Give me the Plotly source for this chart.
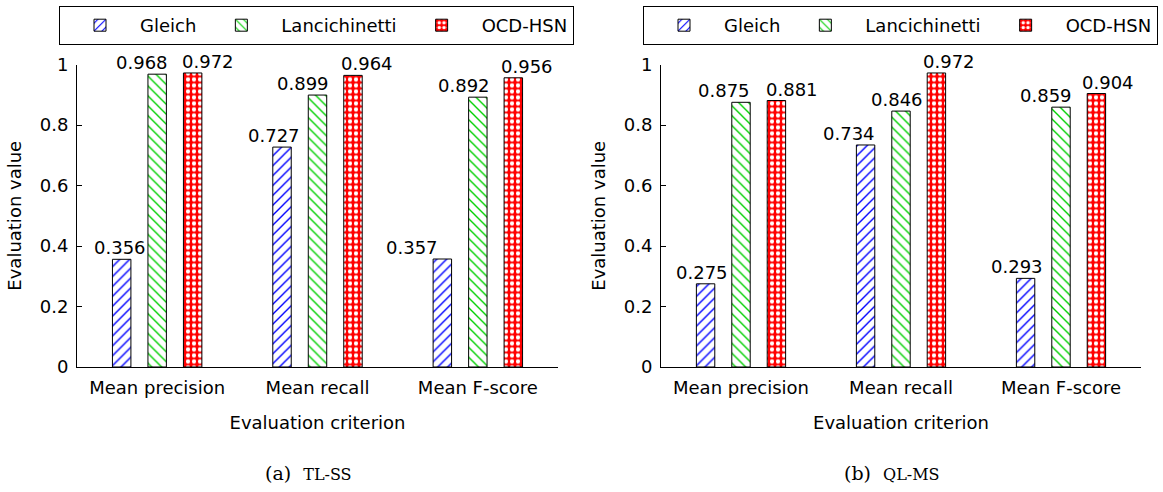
import plotly.graph_objects as go

# ---------------- data ----------------
criteria = ["Mean precision", "Mean recall", "Mean F-score"]
methods = ["Gleich", "Lancichinetti", "OCD-HSN"]

tlss_gleich = [0.356, 0.727, 0.357]
tlss_lanc = [0.968, 0.899, 0.892]
tlss_ocd = [0.972, 0.964, 0.956]

qlms_gleich = [0.275, 0.734, 0.293]
qlms_lanc = [0.875, 0.846, 0.859]
qlms_ocd = [0.881, 0.972, 0.904]

y_ticks = [0, 0.2, 0.4, 0.6, 0.8, 1]
y_tick_labels = ["0", "0.2", "0.4", "0.6", "0.8", "1"]

panel_captions = ["(a)", "(b)"]
panel_names = ["TL-SS", "QL-MS"]

# ---------------- style ----------------
W, H = 1163, 492
FONT = "DejaVu Sans"
BARGAP = 0.336
BARGROUPGAP = 0.48

patterns = [
    dict(shape="/", fgcolor="#0000ff", bgcolor="white", size=7, solidity=0.2, fgopacity=1),
    dict(shape="\\", fgcolor="#00d000", bgcolor="white", size=7, solidity=0.2, fgopacity=1),
    dict(shape=".", fgcolor="white", bgcolor="#ff0000", size=6, solidity=0.4, fgopacity=1),
]

# horizontal pixel nudges of the value labels (as placed in the original)
label_dx = {
    0: [[-2, -8, -30], [-15, -15, -14], [15, 14, 14]],
    1: [[-4, -17, -9], [-17, -4, -15], [16, 13, 12]],
}

x_domains = [[77 / W, 558 / W], [661 / W, 1141 / W]]
y_domain = [1 - 367 / H, 1 - 64.5 / H]
legend_x = [59 / W, 643 / W]

fig = go.Figure()

panels = [
    [tlss_gleich, tlss_lanc, tlss_ocd],
    [qlms_gleich, qlms_lanc, qlms_ocd],
]

annotations = []
slot = (1 - BARGAP) / len(methods)

for p, series in enumerate(panels):
    xa = "x" if p == 0 else "x2"
    ya = "y" if p == 0 else "y2"
    lg = "legend" if p == 0 else "legend2"
    for s, (name, vals) in enumerate(zip(methods, series)):
        fig.add_trace(
            go.Bar(
                x=criteria,
                y=vals,
                name=name,
                xaxis=xa,
                yaxis=ya,
                legend=lg,
                marker=dict(
                    color="white",
                    line=dict(color="black", width=1),
                    pattern=patterns[s],
                ),
                hoverinfo="skip",
            )
        )
        for i, v in enumerate(vals):
            annotations.append(
                dict(
                    xref=xa,
                    yref=ya,
                    x=i + (s - 1) * slot,
                    y=v,
                    text=f"{v:.3f}",
                    showarrow=False,
                    xanchor="center",
                    yanchor="bottom",
                    xshift=label_dx[p][s][i],
                    yshift=-1,
                    font=dict(family=FONT, size=18, color="black"),
                )
            )

for p in range(2):
    cx = (x_domains[p][0] + x_domains[p][1]) / 2 - 9 / W
    annotations.append(
        dict(
            xref="paper",
            yref="paper",
            x=cx,
            y=1 - 473 / H,
            text=f"{panel_captions[p]}  <span style='font-size:16px'>{panel_names[p]}</span>",
            showarrow=False,
            xanchor="center",
            yanchor="middle",
            font=dict(family="DejaVu Serif", size=19, color="black"),
        )
    )

axis_common_x = dict(
    type="category",
    range=[-0.5, 2.5],
    showline=True,
    linecolor="black",
    linewidth=1,
    ticks="",
    showgrid=False,
    zeroline=False,
    tickfont=dict(family=FONT, size=18, color="black"),
    ticklabelstandoff=4,
    title=dict(text="Evaluation criterion", font=dict(family=FONT, size=18, color="black"), standoff=19),
    automargin=False,
)
axis_common_y = dict(
    range=[0, 1],
    tickvals=y_ticks,
    ticktext=y_tick_labels,
    showline=True,
    linecolor="black",
    linewidth=1,
    ticks="inside",
    ticklen=5,
    tickcolor="black",
    showgrid=False,
    zeroline=False,
    tickfont=dict(family=FONT, size=18, color="black"),
    ticklabelstandoff=4,
    title=dict(text="Evaluation value", font=dict(family=FONT, size=18, color="black"), standoff=13),
    automargin=False,
)

legend_common = dict(
    orientation="h",
    xanchor="left",
    yanchor="top",
    y=1 - 6 / H,
    bgcolor="white",
    bordercolor="black",
    borderwidth=1,
    font=dict(family=FONT, size=18, color="black"),
    itemwidth=70,
    traceorder="normal",
)

fig.update_layout(
    width=W,
    height=H,
    margin=dict(l=0, r=0, t=0, b=0),
    paper_bgcolor="white",
    plot_bgcolor="white",
    barmode="group",
    bargap=BARGAP,
    bargroupgap=BARGROUPGAP,
    xaxis=dict(domain=x_domains[0], anchor="y", **axis_common_x),
    yaxis=dict(domain=y_domain, anchor="x", **axis_common_y),
    xaxis2=dict(domain=x_domains[1], anchor="y2", **axis_common_x),
    yaxis2=dict(domain=y_domain, anchor="x2", **axis_common_y),
    legend=dict(x=legend_x[0], **legend_common),
    legend2=dict(x=legend_x[1], **legend_common),
    annotations=annotations,
    showlegend=True,
)

fig.write_html("out.html")
